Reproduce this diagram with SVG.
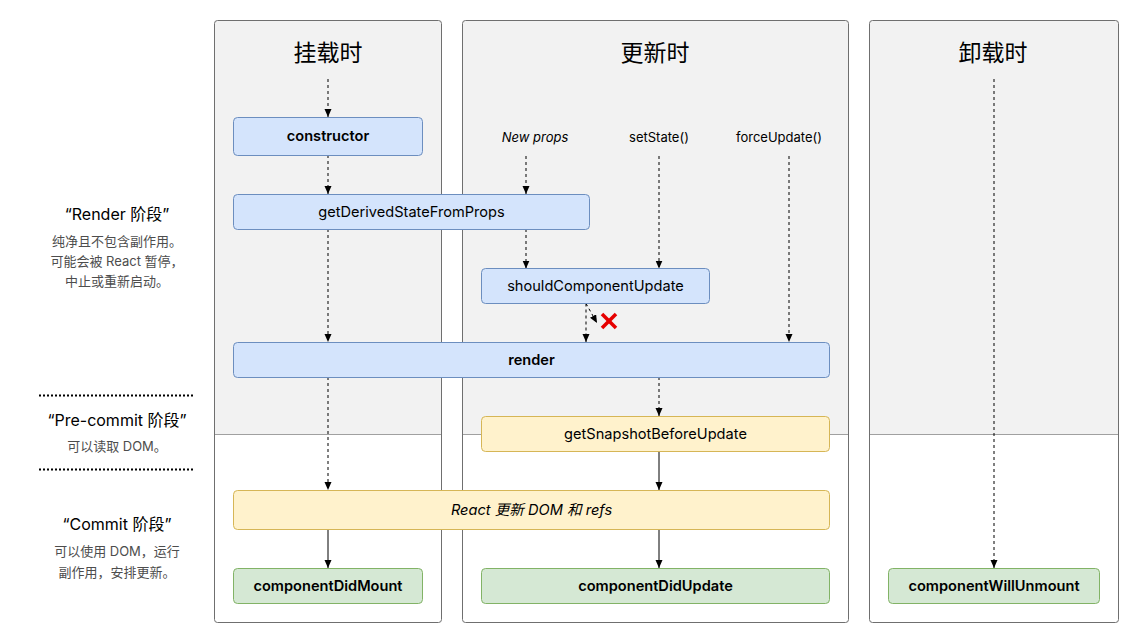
<svg xmlns="http://www.w3.org/2000/svg" width="1146" height="641" viewBox="0 0 1146 641">
<style>
text{font-family:"Inter","Noto Sans CJK SC",sans-serif;fill:#000}
.title{font-size:23px;font-family:"Noto Sans CJK SC",sans-serif;text-anchor:middle}
.lbl{font-size:13px;text-anchor:middle}
.it{font-style:italic}
.box{font-size:14.6px;text-anchor:middle}
.b{font-weight:600}
.ph{font-size:16px;text-anchor:middle}
.sub{font-size:13px;text-anchor:middle;fill:#4d4d4d}
.panel{fill:none;stroke:#6f6f6f;stroke-width:1}
.gray{fill:#f2f2f2}
.sep{stroke:#a0a0a0;stroke-width:1}
.blue{fill:#d4e4fc;stroke:#6c8ebf;stroke-width:1}
.yellow{fill:#fff2cc;stroke:#d6b656;stroke-width:1}
.green{fill:#d5e8d4;stroke:#82b366;stroke-width:1}
.c{fill:none;stroke:#000;stroke-width:1;marker-end:url(#arr)}
.d{stroke-dasharray:3 3}
.dot{stroke:#000;stroke-width:2;stroke-dasharray:2 2}
</style>
<defs>
<marker id="arr" markerUnits="userSpaceOnUse" markerWidth="8" markerHeight="8" refX="8" refY="3.5" orient="auto">
<path d="M0,0 L8,3.5 L0,7 Z" fill="#000"/>
</marker>
</defs>
<rect width="1146" height="641" fill="#fff"/>

<g id="panel-mount">
<rect x="214.5" y="20.5" width="227" height="602" rx="3" fill="#fff"/>
<rect x="215" y="21" width="226" height="413.5" class="gray"/>
<line x1="214.5" y1="434.5" x2="441.5" y2="434.5" class="sep"/>
<rect x="214.5" y="20.5" width="227" height="602" rx="3" class="panel"/>
<text class="title" x="328" y="61">挂载时</text>
</g>
<g id="panel-update">
<rect x="462.5" y="20.5" width="386" height="602" rx="3" fill="#fff"/>
<rect x="463" y="21" width="385" height="413.5" class="gray"/>
<line x1="462.5" y1="434.5" x2="848.5" y2="434.5" class="sep"/>
<rect x="462.5" y="20.5" width="386" height="602" rx="3" class="panel"/>
<text class="title" x="655" y="61">更新时</text>
</g>
<g id="panel-unmount">
<rect x="869.5" y="20.5" width="249" height="602" rx="3" fill="#fff"/>
<rect x="870" y="21" width="248" height="413.5" class="gray"/>
<line x1="869.5" y1="434.5" x2="1118.5" y2="434.5" class="sep"/>
<rect x="869.5" y="20.5" width="249" height="602" rx="3" class="panel"/>
<text class="title" x="993" y="61">卸载时</text>
</g>

<g id="phases">
<text class="ph" x="117" y="220">“Render 阶段”</text>
<text class="sub" x="117" y="246">纯净且不包含副作用。</text>
<text class="sub" x="117" y="266">可能会被 React 暂停，</text>
<text class="sub" x="117" y="286">中止或重新启动。</text>
<line x1="39" y1="395.5" x2="194" y2="395.5" class="dot"/>
<text class="ph" x="117" y="426">“Pre-commit 阶段”</text>
<text class="sub" x="117" y="451">可以读取 DOM。</text>
<line x1="39" y1="469.5" x2="194" y2="469.5" class="dot"/>
<text class="ph" x="117" y="530">“Commit 阶段”</text>
<text class="sub" x="117" y="556">可以使用 DOM，运行</text>
<text class="sub" x="117" y="577">副作用，安排更新。</text>
</g>

<g id="triggers">
<text class="lbl it" x="535" y="142">New props</text>
<text class="lbl" x="659" y="142">setState()</text>
<text class="lbl" x="779" y="142">forceUpdate()</text>
</g>

<g id="connectors">
<path class="c d" d="M328,79 V117"/>
<path class="c d" d="M328,155 V194"/>
<path class="c d" d="M328,229 V342"/>
<path class="c d" d="M328,377 V490"/>
<path class="c" d="M328,529 V568"/>
<path class="c d" d="M526,156 V194"/>
<path class="c d" d="M526,229 V268.5"/>
<path class="c d" d="M659,156 V268.5"/>
<path class="c d" d="M789,156 V342"/>
<path class="c d" d="M586,303.5 V342"/>
<path class="c d" d="M586,303.5 L597,323"/>
<path class="c d" d="M659,377 V416"/>
<path class="c" d="M659,451 V490"/>
<path class="c" d="M659,529 V568"/>
<path class="c d" d="M994,79 V568"/>
<g id="cross" stroke="#e60000" stroke-width="3.5">
<line x1="602" y1="314" x2="616" y2="328"/>
<line x1="616" y1="314" x2="602" y2="328"/>
</g>
</g>

<g id="constructor">
<rect x="233.5" y="117.5" width="189" height="38" rx="4" class="blue"/>
<text class="box b" x="328" y="141">constructor</text>
</g>
<g id="getDerivedStateFromProps">
<rect x="233.5" y="194.5" width="356" height="35" rx="4" class="blue"/>
<text class="box" x="411.5" y="217">getDerivedStateFromProps</text>
</g>
<g id="shouldComponentUpdate">
<rect x="481.5" y="268.5" width="228" height="35" rx="4" class="blue"/>
<text class="box" x="595.5" y="291">shouldComponentUpdate</text>
</g>
<g id="render">
<rect x="233.5" y="342.5" width="596" height="35" rx="4" class="blue"/>
<text class="box b" x="531.5" y="365">render</text>
</g>
<g id="getSnapshotBeforeUpdate">
<rect x="481.5" y="416.5" width="348" height="35" rx="4" class="yellow"/>
<text class="box" x="655.5" y="439">getSnapshotBeforeUpdate</text>
</g>
<g id="react-updates-dom">
<rect x="233.5" y="490.5" width="596" height="39" rx="4" class="yellow"/>
<text class="box it" x="531.5" y="515">React 更新 DOM 和 refs</text>
</g>
<g id="componentDidMount">
<rect x="233.5" y="568.5" width="189" height="35" rx="4" class="green"/>
<text class="box b" x="328" y="591">componentDidMount</text>
</g>
<g id="componentDidUpdate">
<rect x="481.5" y="568.5" width="348" height="35" rx="4" class="green"/>
<text class="box b" x="655.5" y="591">componentDidUpdate</text>
</g>
<g id="componentWillUnmount">
<rect x="888.5" y="568.5" width="211" height="35" rx="4" class="green"/>
<text class="box b" x="994" y="591">componentWillUnmount</text>
</g>
</svg>
